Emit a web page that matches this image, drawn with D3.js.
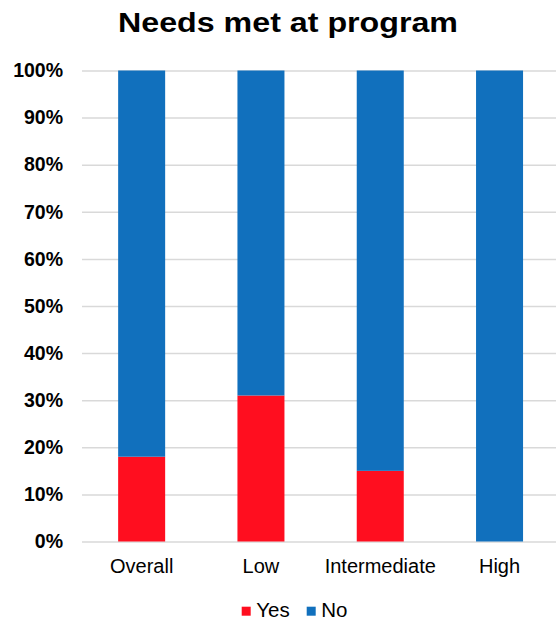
<!DOCTYPE html>
<html>
<head>
<meta charset="utf-8">
<script src="https://cdn.jsdelivr.net/npm/d3@7"></script>
<style>
  html, body { margin: 0; padding: 0; background: #fff; }
  svg { display: block; font-family: "Liberation Sans", Arial, Helvetica, sans-serif; }
</style>
</head>
<body>
<svg id="chart" width="556" height="625"></svg>
<script>
// Share of respondents whose needs were met, by group
const categories = ["Overall", "Low", "Intermediate", "High"];
const yesValues = [0.18, 0.31, 0.15, 0.0];
const noValues = [0.82, 0.69, 0.85, 1.0];
const yTicks = [0, 0.1, 0.2, 0.3, 0.4, 0.5, 0.6, 0.7, 0.8, 0.9, 1.0];
const seriesNames = ["Yes", "No"];
const seriesColors = ["#FF0E1F", "#1170BD"];

const svg = d3.select("#chart");
const plot = { left: 82, right: 559.2, top: 70.5, bottom: 541.5 };

const x = d3.scaleBand()
  .domain(categories)
  .range([plot.left, plot.right])
  .paddingInner(0.606)
  .paddingOuter(0.303);

const y = d3.scaleLinear()
  .domain([0, 1])
  .range([plot.bottom, plot.top]);

// Title
svg.append("text")
  .attr("x", 288)
  .attr("y", 32)
  .attr("text-anchor", "middle")
  .attr("font-size", 27)
  .attr("font-weight", "bold")
  .attr("textLength", 340)
  .attr("lengthAdjust", "spacingAndGlyphs")
  .attr("fill", "#000")
  .text("Needs met at program");

// Gridlines and y labels
const yAxis = d3.axisLeft(y)
  .tickValues(yTicks)
  .tickFormat(d3.format(".0%"))
  .tickSize(-(556 - plot.left))
  .tickPadding(19);

const gy = svg.append("g")
  .attr("transform", `translate(${plot.left},0)`)
  .call(yAxis);
gy.select(".domain").remove();
gy.selectAll(".tick line")
  .attr("stroke", "#D9D9D9")
  .attr("stroke-width", 1.5);
gy.selectAll(".tick text")
  .attr("font-size", 19.5)
  .attr("font-weight", "bold")
  .attr("fill", "#000")
  .attr("font-family", "\"Liberation Sans\", Arial, sans-serif");

// Stacked bars
const rows = categories.map((c, i) => ({ category: c, Yes: yesValues[i], No: noValues[i] }));
const stacked = d3.stack().keys(seriesNames)(rows);

svg.append("g")
  .selectAll("g")
  .data(stacked)
  .join("g")
  .attr("fill", (d, i) => seriesColors[i])
  .selectAll("rect")
  .data(d => d)
  .join("rect")
  .attr("x", d => x(d.data.category))
  .attr("width", x.bandwidth())
  .attr("y", d => y(d[1]))
  .attr("height", d => y(d[0]) - y(d[1]));

// Category labels
const xAxis = d3.axisBottom(x).tickSize(0).tickPadding(0);
const gx = svg.append("g")
  .attr("transform", `translate(0,${plot.bottom})`)
  .call(xAxis);
gx.select(".domain").remove();
gx.selectAll(".tick text")
  .attr("dy", null)
  .attr("y", 31)
  .attr("font-size", 20)
  .attr("fill", "#000")
  .attr("font-family", "\"Liberation Sans\", Arial, sans-serif");

// Legend
const legendX = [241.7, 306.7];
const legend = svg.append("g");
seriesNames.forEach((name, i) => {
  legend.append("rect")
    .attr("x", legendX[i])
    .attr("y", 606.7)
    .attr("width", 9)
    .attr("height", 9)
    .attr("fill", seriesColors[i]);
  legend.append("text")
    .attr("x", legendX[i] + 14.5)
    .attr("y", 617)
    .attr("font-size", 20.5)
    .attr("fill", "#000")
    .text(name);
});
</script>
</body>
</html>
